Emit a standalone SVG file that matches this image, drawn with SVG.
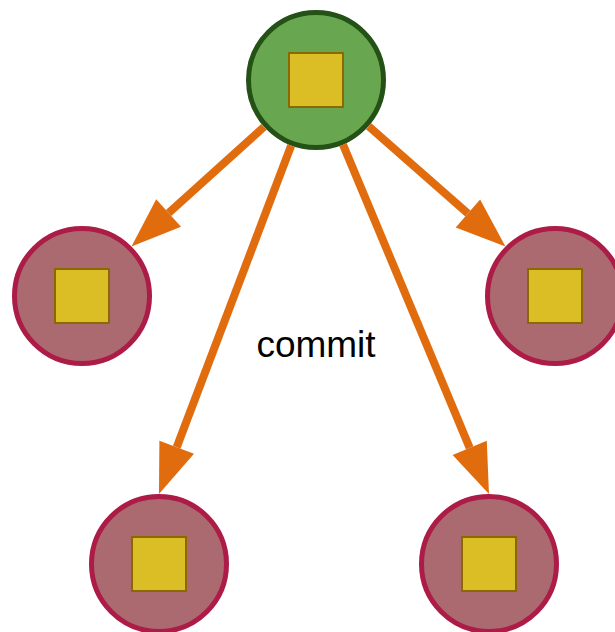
<svg xmlns="http://www.w3.org/2000/svg" width="615" height="632" viewBox="0 0 615 632">
  <style>
    .root { fill: #68a74f; stroke: #245116; stroke-width: 5; }
    .leaf { fill: #ab6a70; stroke: #ac1c46; stroke-width: 5; }
    .box { fill: #dbbd25; stroke: #8a6a00; stroke-width: 2; }
    .edge { fill: none; stroke: #e06c0e; stroke-width: 8; marker-end: url(#head); }
    .label { font-family: "Liberation Sans", Arial, sans-serif; font-size: 37px; fill: #000; text-anchor: middle; }
  </style>
  <defs>
    <marker id="head" markerUnits="userSpaceOnUse" markerWidth="50" markerHeight="37" refX="0" refY="18.5" orient="auto" overflow="visible">
      <path d="M0,0 L50,18.5 L0,37 Z" fill="#e06c0e"/>
    </marker>
  </defs>

  <g id="node-top">
    <circle class="root" cx="316" cy="80" r="67.5"/>
    <rect class="box" x="289" y="53" width="54" height="54"/>
  </g>
  <g id="node-left">
    <circle class="leaf" cx="82" cy="296" r="67.5"/>
    <rect class="box" x="55" y="269" width="54" height="54"/>
  </g>
  <g id="node-right">
    <circle class="leaf" cx="555" cy="296" r="67.5"/>
    <rect class="box" x="528" y="269" width="54" height="54"/>
  </g>
  <g id="node-bottom-left">
    <circle class="leaf" cx="159" cy="564" r="67.5"/>
    <rect class="box" x="132" y="537" width="54" height="54"/>
  </g>
  <g id="node-bottom-right">
    <circle class="leaf" cx="489" cy="564" r="67.5"/>
    <rect class="box" x="462" y="537" width="54" height="54"/>
  </g>

  <g id="connectors">
    <line class="edge" x1="264" y1="126.9" x2="168.6" y2="213"/>
    <line class="edge" x1="368.6" y1="126.2" x2="467.9" y2="213.5"/>
    <line class="edge" x1="291.2" y1="145.5" x2="176.7" y2="447.25"/>
    <line class="edge" x1="343" y1="144.6" x2="469.7" y2="447.9"/>
  </g>

  <text class="label" x="316" y="357">commit</text>
</svg>
